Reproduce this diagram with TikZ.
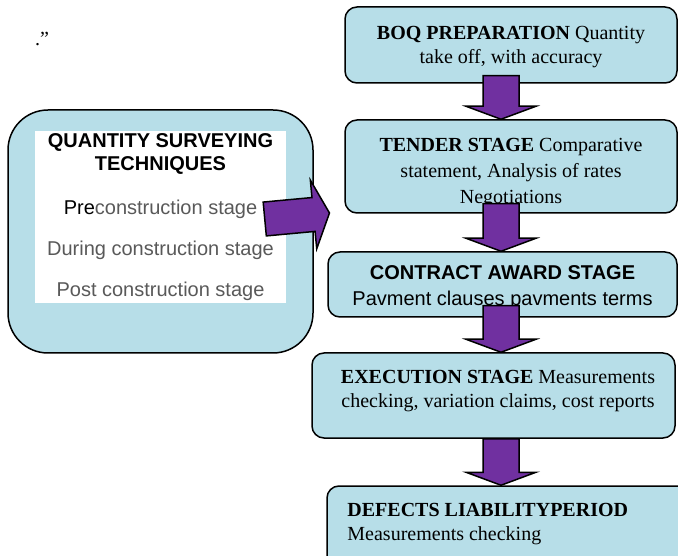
\documentclass[tikz,border=0pt]{standalone}
\usepackage{fontspec}
\setmainfont{Liberation Serif}
\setsansfont{Liberation Sans}
\usepackage{tikz}
\usetikzlibrary{calc,positioning}
\definecolor{stageblue}{RGB}{183,222,232}
\definecolor{stagepurple}{RGB}{112,48,160}
\definecolor{stagegrey}{RGB}{89,89,89}
\tikzset{
  %% Stage boxes
  stagebox/.style={draw=black, fill=stageblue, line width=1.5pt, rounded corners=12pt,
    inner sep=0pt, align=center, font=\fontsize{20}{24}\selectfont},
  sidebox/.style={draw=black, fill=stageblue, line width=1.5pt, rounded corners=40pt, inner sep=0pt},
  stagetext/.style={inner sep=0pt, font=\fontsize{20}{24}\selectfont},
  %% Block arrows
  blockarrow/.style={draw=black, fill=stagepurple, line width=1.5pt, line join=miter},
}
%% down arrow: from box, to box, overlap into the upper box
\newcommand{\stagearrow}[3]{%
  \draw[blockarrow] ($(#1.south -| axis)+(-18,-#3)$) -- ($(#2.north -| axis)+(-18,-13)$)
    -- ($(#2.north -| axis)+(-35,-13)$) -- (#2.north -| axis)
    -- ($(#2.north -| axis)+(35,-13)$) -- ($(#2.north -| axis)+(18,-13)$)
    -- ($(#1.south -| axis)+(18,-#3)$) -- cycle;}

\begin{document}
\begin{tikzpicture}[x=1pt, y=-1pt]
\useasboundingbox (0,0) rectangle (678,556);

\node[stagetext, anchor=base west] (mark) at (35,46) {.”};

%% Left box
\node[sidebox, minimum width=305pt, minimum height=243pt] (qs) at (160.5,231.5) {};
\node[fill=white, inner sep=0pt, minimum width=251pt, minimum height=172pt, align=center,
  font=\sffamily\fontsize{20}{23}\selectfont] (qstext) at (160.5,217)
  {\textbf{QUANTITY SURVEYING}\\\textbf{TECHNIQUES}\\[21pt]
   Pre\textcolor{stagegrey}{construction stage}\\[18pt]
   \textcolor{stagegrey}{During construction stage}\\[18pt]
   \textcolor{stagegrey}{Post construction stage}};

%% Stages
\node[stagebox, minimum width=332pt, minimum height=76pt] (boq) at (511,45)
  {\rule{0pt}{17pt}\textbf{BOQ PREPARATION} Quantity\\take off, with accuracy};
\node[stagebox, minimum width=332pt, minimum height=93pt, font=\fontsize{20}{26}\selectfont] (tender) at (511,166.5)
  {\rule{0pt}{26pt}\textbf{TENDER STAGE} Comparative\\statement, Analysis of rates\\Negotiations};
\node[stagebox, minimum width=349pt, minimum height=65pt, font=\sffamily\fontsize{20}{26}\selectfont] (award) at (502.5,284.5)
  {\rule{0pt}{20pt}\textbf{CONTRACT AWARD STAGE}\\Pavment clauses pavments terms};
\node[stagebox, minimum width=363pt, minimum height=85pt] (exec) at (493.5,395.5) {};
\node[stagetext, anchor=north, align=center] (exectext) at ($(exec.north)+(4.5,18)$)
  {\textbf{EXECUTION STAGE} Measurements\\checking, variation claims, cost reports};
\node[stagebox, minimum width=362pt, minimum height=104pt] (dlp) at (508,538) {};
\node[stagetext, anchor=north west, align=left] (dlptext) at ($(dlp.north west)+(21,18)$)
  {\textbf{DEFECTS LIABILITYPERIOD}\\Measurements checking};

%% Arrows
\coordinate (axis) at (501,0);
\stagearrow{boq}{tender}{8}
\stagearrow{tender}{award}{10}
\stagearrow{award}{exec}{12}
\stagearrow{exec}{dlp}{0}

\coordinate (pointer) at ($(qs.east)+(-49,-12.5)$);
\draw[blockarrow, shift={(pointer)}, rotate=5.3]
  (0,-17) -- (49,-17) -- (49,-34.5) -- (65,0) -- (49,34.5) -- (49,17) -- (0,17) -- cycle;

\end{tikzpicture}
\end{document}
